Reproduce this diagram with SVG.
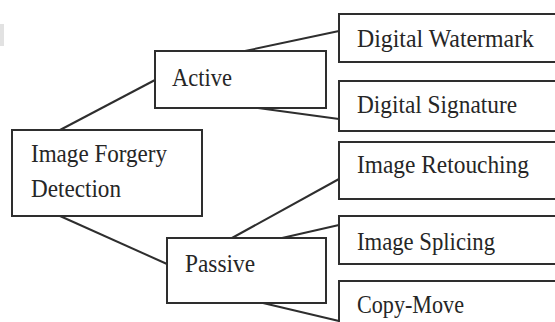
<svg xmlns="http://www.w3.org/2000/svg" width="555" height="322" viewBox="0 0 555 322">
  <style>
    .box { fill: #ffffff; stroke: #2e2e2e; stroke-width: 2; }
    .link { fill: none; stroke: #2e2e2e; stroke-width: 2; }
    .label { font-family: "Liberation Serif", "DejaVu Serif", serif; font-size: 25px; fill: #262626; }
  </style>
  <rect width="555" height="322" fill="#ffffff"/>
  <!-- faint smudge at the left edge -->
  <rect x="0" y="24" width="4" height="22" fill="#e2e2e2"/>

  <g id="connectors">
    <line class="link" x1="60" y1="130" x2="155" y2="80"/>
    <line class="link" x1="60" y1="216" x2="167" y2="264"/>
    <line class="link" x1="245" y1="51" x2="339" y2="31"/>
    <line class="link" x1="258" y1="108" x2="339" y2="119"/>
    <line class="link" x1="232" y1="238" x2="339" y2="179"/>
    <line class="link" x1="282" y1="238" x2="339" y2="225"/>
    <line class="link" x1="263" y1="303" x2="339" y2="321"/>
  </g>

  <g id="image-forgery-detection">
    <rect class="box" x="12" y="130" width="190" height="86"/>
    <text class="label" x="31" y="162" textLength="136" lengthAdjust="spacingAndGlyphs">Image Forgery</text>
    <text class="label" x="31" y="197" textLength="90" lengthAdjust="spacingAndGlyphs">Detection</text>
  </g>

  <g id="active">
    <rect class="box" x="155" y="51" width="171" height="57"/>
    <text class="label" x="172" y="86" textLength="60" lengthAdjust="spacingAndGlyphs">Active</text>
  </g>

  <g id="passive">
    <rect class="box" x="167" y="238" width="159" height="65"/>
    <text class="label" x="185" y="272" textLength="70" lengthAdjust="spacingAndGlyphs">Passive</text>
  </g>

  <g id="digital-watermark">
    <rect class="box" x="339" y="14" width="230" height="48"/>
    <text class="label" x="357" y="47" textLength="177" lengthAdjust="spacingAndGlyphs">Digital Watermark</text>
  </g>

  <g id="digital-signature">
    <rect class="box" x="339" y="81" width="230" height="50"/>
    <text class="label" x="357" y="113" textLength="160" lengthAdjust="spacingAndGlyphs">Digital Signature</text>
  </g>

  <g id="image-retouching">
    <rect class="box" x="339" y="142" width="230" height="57"/>
    <text class="label" x="357" y="173" textLength="172" lengthAdjust="spacingAndGlyphs">Image Retouching</text>
  </g>

  <g id="image-splicing">
    <rect class="box" x="339" y="216" width="230" height="48"/>
    <text class="label" x="357" y="250" textLength="138" lengthAdjust="spacingAndGlyphs">Image Splicing</text>
  </g>

  <g id="copy-move">
    <rect class="box" x="339" y="281" width="230" height="60"/>
    <text class="label" x="357" y="313" textLength="107" lengthAdjust="spacingAndGlyphs">Copy-Move</text>
  </g>
</svg>
